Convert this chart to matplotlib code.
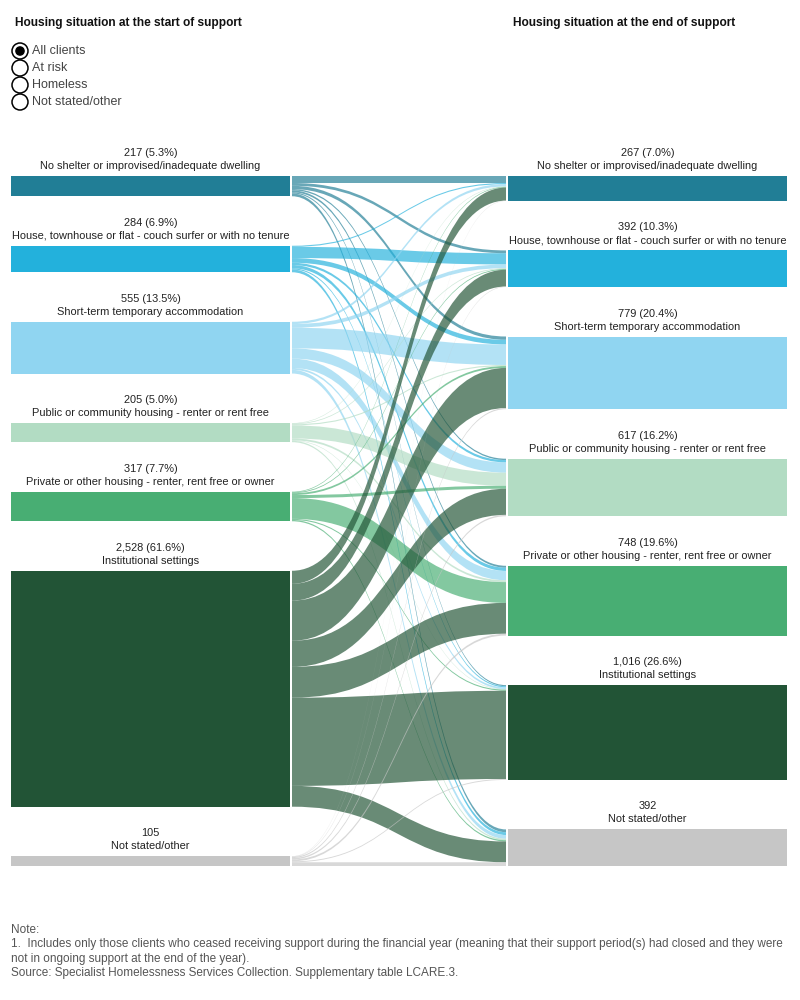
import numpy as np
import matplotlib.pyplot as plt
from matplotlib.path import Path
from matplotlib.patches import PathPatch, Rectangle, Circle

plt.rcParams['font.family'] = ['Liberation Sans', 'DejaVu Sans']

# Categorias (mismo orden al inicio y al final)
categorias = ['No shelter or improvised/inadequate dwelling',
              'House, townhouse or flat - couch surfer or with no tenure',
              'Short-term temporary accommodation',
              'Public or community housing - renter or rent free',
              'Private or other housing - renter, rent free or owner',
              'Institutional settings',
              'Not stated/other']
inicio = [217, 284, 555, 205, 317, 2528, 105]
final = [267, 392, 779, 617, 748, 1016, 392]
etiq_inicio = ['217 (5.3%)', '284 (6.9%)', '555 (13.5%)', '205 (5.0%)',
               '317 (7.7%)', '2,528 (61.6%)', '105']
etiq_final = ['267 (7.0%)', '392 (10.3%)', '779 (20.4%)', '617 (16.2%)',
              '748 (19.6%)', '1,016 (26.6%)', '392']

# Flujos estimados: fila = situacion al inicio, columna = situacion al final
flujos = [
    [75, 30, 35, 15, 20, 12, 30],
    [12, 120, 50, 25, 35, 12, 30],
    [25, 40, 220, 110, 100, 20, 40],
    [5, 8, 12, 140, 20, 5, 15],
    [7, 9, 20, 32, 223, 12, 14],
    [140, 180, 430, 280, 330, 945, 223],
    [3, 5, 12, 15, 20, 10, 40],
]

colores = ['#217e96', '#23b1dc', '#90d5f1', '#b2dcc3', '#48ae73', '#225436', '#c6c6c6']

fig = plt.figure(figsize=(8, 10), dpi=100)
ax = fig.add_axes([0, 0, 1, 1])
ax.set_xlim(0, 800)
ax.set_ylim(1000, 0)
ax.axis('off')

arriba, abajo, hueco = 176, 866, 49.5
total = sum(inicio)
escala = (abajo - arriba - hueco * (len(inicio) - 1)) / total


def posiciones(valores):
    ys = []
    y = arriba
    for v in valores:
        ys.append(y)
        y += v * escala + hueco
    return ys


y_ini = posiciones(inicio)
y_fin = posiciones(final)

xl0, xl1 = 11, 290
xr0, xr1 = 508, 787
xf0, xf1 = 292, 506

# Nodos y etiquetas
for i, cat in enumerate(categorias):
    for (x0, x1, ys, vals, labs) in [(xl0, xl1, y_ini, inicio, etiq_inicio),
                                     (xr0, xr1, y_fin, final, etiq_final)]:
        h = vals[i] * escala
        ax.add_patch(Rectangle((x0, ys[i]), x1 - x0, h, color=colores[i], lw=0))
        cx = (x0 + x1) / 2
        ax.text(cx, ys[i] - 23, labs[i], ha='center', va='center', fontsize=7.9, color='#222222')
        ax.text(cx, ys[i] - 10, cat, ha='center', va='center', fontsize=7.9, color='#222222')

# Flujos
off_fuente = list(y_ini)
off_dest = list(y_fin)
segs = {}
for i in range(len(inicio)):
    for j in range(len(final)):
        h = flujos[i][j] * escala
        segs[(i, j)] = [off_fuente[i], off_fuente[i] + h]
        off_fuente[i] += h
for j in range(len(final)):
    for i in range(len(inicio)):
        h = flujos[i][j] * escala
        segs[(i, j)] += [off_dest[j], off_dest[j] + h]
        off_dest[j] += h

xm = (xf0 + xf1) / 2
for i in range(len(inicio)):
    for j in range(len(final)):
        s0, s1, t0, t1 = segs[(i, j)]
        verts = [(xf0, s0), (xm, s0), (xm, t0), (xf1, t0),
                 (xf1, t1), (xm, t1), (xm, s1), (xf0, s1), (xf0, s0)]
        codes = [Path.MOVETO, Path.CURVE4, Path.CURVE4, Path.CURVE4,
                 Path.LINETO, Path.CURVE4, Path.CURVE4, Path.CURVE4, Path.CLOSEPOLY]
        ax.add_patch(PathPatch(Path(verts, codes), facecolor=colores[i], alpha=0.68, lw=0))

# Titulos
ax.text(15, 23, 'Housing situation at the start of support', fontsize=8.6, fontweight='bold',
        va='center', color='#111111')
ax.text(513, 23, 'Housing situation at the end of support', fontsize=8.6, fontweight='bold',
        va='center', color='#111111')

# Botones de radio
opciones = ['All clients', 'At risk', 'Homeless', 'Not stated/other']
for k, op in enumerate(opciones):
    y = 51 + k * 17
    ax.add_patch(Circle((20, y), 8, facecolor='white', edgecolor='black', lw=1.1))
    if k == 0:
        ax.add_patch(Circle((20, y), 4.8, facecolor='black', edgecolor='none'))
    ax.text(32, y, op, fontsize=9, va='center', color='#444444')

# Nota
nota = ['Note:',
        '1.  Includes only those clients who ceased receiving support during the financial year (meaning that their support period(s) had closed and they were',
        'not in ongoing support at the end of the year).',
        'Source: Specialist Homelessness Services Collection. Supplementary table LCARE.3.']
for k, linea in enumerate(nota):
    ax.text(11, 930 + k * 14.3, linea, fontsize=8.5, va='center', color='#555555')

fig.savefig('out.png', dpi=100)
